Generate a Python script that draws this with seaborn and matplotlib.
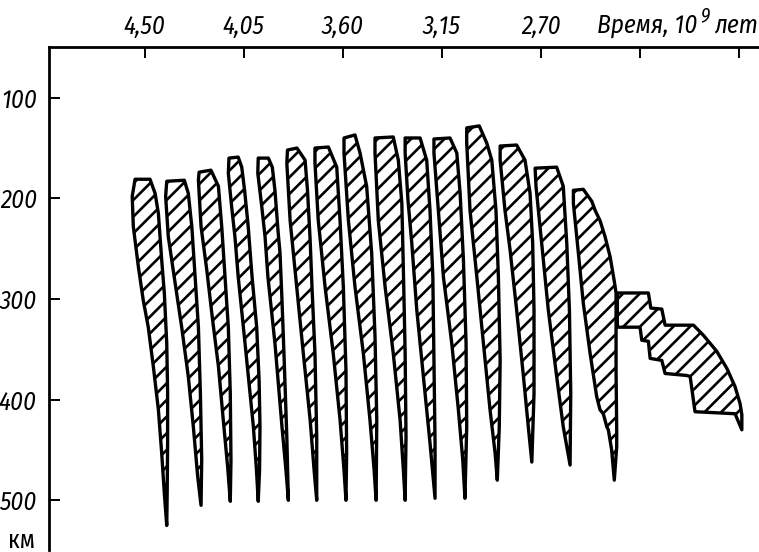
import matplotlib
matplotlib.use("Agg")
import matplotlib.pyplot as plt
from matplotlib import font_manager
import seaborn as sns

# ---------------- data (time in 10^9 years, depth in km) ----------------
x_ticks = [4.50, 4.05, 3.60, 3.15, 2.70, 2.25, 1.80]
x_tick_labels = ["4,50", "4,05", "3,60", "3,15", "2,70", "", ""]
y_ticks = [100, 200, 300, 400, 500]
y_tick_labels = ["100", "200", "300", "400", "500"]

# outlines of the hatched lenses: (time, depth) going top-left -> right edge -> tip -> left edge
lens_01 = [(4.544,181),(4.476,181),(4.453,195),(4.438,215),(4.423,261),(4.411,294),(4.400,344),(4.396,393),
           (4.396,443),(4.398,493),(4.400,525),(4.411,493),(4.423,453),(4.438,410),(4.461,367),(4.484,328),
           (4.507,301),(4.529,268),(4.552,228),(4.557,198)]
lens_02 = [(4.400,183),(4.320,182),(4.302,195),(4.286,228),(4.271,278),(4.256,328),(4.247,394),(4.241,460),
           (4.244,505),(4.259,477),(4.279,427),(4.302,377),(4.332,328),(4.362,284),(4.393,238),(4.405,198)]
lens_03 = [(4.253,174),(4.199,172),(4.165,188),(4.150,228),(4.135,278),(4.120,328),(4.111,394),(4.108,460),
           (4.111,501),(4.123,467),(4.143,420),(4.165,367),(4.193,318),(4.218,271),(4.244,228),(4.256,182)]
lens_04 = [(4.117,160),(4.075,159),(4.059,169),(4.046,192),(4.030,227),(4.012,278),(3.991,328),(3.980,381),
           (3.976,427),(3.978,470),(3.984,501),(3.992,470),(4.006,427),(4.044,344),(4.075,278),(4.090,238),
           (4.105,208),(4.120,175)]
lens_05 = [(3.984,160),(3.938,160),(3.920,169),(3.908,192),(3.893,235),(3.885,254),(3.876,301),(3.867,354),
           (3.854,437),(3.847,500),(3.858,470),(3.876,427),(3.908,344),(3.940,278),(3.953,238),(3.968,208),
           (3.986,175)]
lens_06 = [(3.851,152),(3.808,150),(3.771,162),(3.760,192),(3.748,241),(3.739,291),(3.726,354),(3.718,437),
           (3.718,500),(3.730,470),(3.748,420),(3.779,354),(3.809,288),(3.839,222),(3.854,165)]
lens_07 = [(3.726,150),(3.665,149),(3.627,169),(3.612,222),(3.597,288),(3.585,371),(3.582,453),(3.585,500),
           (3.594,470),(3.612,420),(3.643,354),(3.680,288),(3.711,222),(3.726,165)]
lens_08 = [(3.594,140),(3.544,137),(3.521,155),(3.491,188),(3.468,255),(3.453,337),(3.445,420),(3.448,500),
           (3.457,470),(3.476,420),(3.506,354),(3.544,288),(3.574,222),(3.594,155)]
lens_09 = [(3.453,140),(3.370,139),(3.347,162),(3.331,205),(3.324,271),(3.316,354),(3.312,437),(3.316,500),
           (3.324,470),(3.339,420),(3.370,354),(3.407,288),(3.438,222),(3.453,155)]
lens_10 = [(3.316,140),(3.248,140),(3.218,162),(3.203,212),(3.190,278),(3.185,361),(3.180,443),(3.180,498),
           (3.203,443),(3.233,377),(3.263,311),(3.286,244),(3.303,202),(3.316,155)]
lens_11 = [(3.185,141),(3.112,140),(3.081,155),(3.066,195),(3.051,261),(3.039,344),(3.036,427),(3.044,498),
           (3.054,460),(3.074,410),(3.104,344),(3.142,278),(3.165,212),(3.185,155)]
lens_12 = [(3.036,130),(2.979,128),(2.945,145),(2.922,162),(2.903,212),(2.892,278),(2.884,361),(2.888,427),
           (2.897,480),(2.907,453),(2.930,410),(2.960,344),(2.990,278),(3.021,212),(3.036,145)]
lens_13 = [(2.884,148),(2.809,147),(2.771,162),(2.748,195),(2.736,245),(2.730,311),(2.730,394),(2.740,462),
           (2.756,427),(2.778,377),(2.809,311),(2.839,251),(2.862,212),(2.884,162)]
lens_14 = [(2.725,170),(2.627,169),(2.597,188),(2.581,245),(2.569,311),(2.563,394),(2.566,465),(2.597,427),
           (2.627,377),(2.665,311),(2.695,245),(2.721,188)]
lens_15 = [(2.551,192),(2.506,191),(2.467,203),(2.452,212),(2.430,222),(2.407,238),(2.384,258),(2.366,281),
           (2.357,294),(2.357,328),(2.357,371),(2.354,430),(2.354,447),(2.365,480),(2.377,450),(2.392,430),
           (2.399,427),(2.415,414),(2.430,410),(2.445,397),(2.475,354),(2.506,304),(2.528,255),(2.551,205)]
staircase = [(2.351,294),(2.210,294),(2.199,309),(2.149,310),(2.134,326),(2.005,326),(1.960,336),(1.899,352),
             (1.853,369),(1.816,387),(1.793,404),(1.785,415),(1.785,430),(1.816,414),(1.998,412),(2.020,377),
             (2.035,376),(2.134,374),(2.149,361),(2.202,359),(2.210,342),(2.240,341),(2.248,328),(2.351,328)]

lenses = [lens_01, lens_02, lens_03, lens_04, lens_05, lens_06, lens_07, lens_08,
          lens_09, lens_10, lens_11, lens_12, lens_13, lens_14, lens_15, staircase]

# ---------------- style ----------------
sns.set_theme(style="white")
names = {f.name for f in font_manager.fontManager.ttflist}
cyr_pref = ["Fira Sans Condensed", "Roboto Condensed", "PT Sans Narrow", "Archivo Narrow"]
num_pref = ["Fira Sans Condensed", "Barlow Condensed", "Roboto Condensed", "Archivo Narrow"]
cyr_fonts = [n for n in cyr_pref if n in names] + ["DejaVu Sans"]
num_fonts = [n for n in num_pref if n in names] + ["DejaVu Sans"]
plt.rcParams["font.family"] = cyr_fonts
plt.rcParams["hatch.linewidth"] = 1.9
plt.rcParams["hatch.color"] = "black"

W, H = 759, 552
fig = plt.figure(figsize=(W / 100, H / 100), dpi=100, facecolor="white")
ax = fig.add_axes([49.3 / W, 2 / H, 1 - 49.3 / W, (550 - 46.7) / H])
ax.set_facecolor("white")

for shape in lenses:
    ts = [p[0] for p in shape]
    ds = [p[1] for p in shape]
    ax.fill(ts, ds, facecolor="white", edgecolor="black", hatch="//",
            linewidth=2.4, joinstyle="round", zorder=3)

ax.set_xlim(4.934, 1.707)
ax.set_ylim(549.4, 49.3)

for s in ["right", "bottom"]:
    ax.spines[s].set_visible(False)
for s in ["left", "top"]:
    ax.spines[s].set_visible(True)
    ax.spines[s].set_linewidth(2.0)
    ax.spines[s].set_color("black")

ax.xaxis.tick_top()
ax.set_xticks(x_ticks, x_tick_labels, fontstyle="italic", fontsize=18, family=num_fonts)
ax.set_yticks(y_ticks, y_tick_labels, fontstyle="italic", fontsize=18, family=num_fonts)
ax.tick_params(axis="x", top=True, bottom=False, labeltop=True, labelbottom=False,
               direction="in", length=8, width=1.4, pad=5, colors="black")
ax.tick_params(axis="y", left=True, right=False, direction="in", length=8, width=1.4,
               pad=9, colors="black")
ax.grid(False)

# axis titles
renderer = fig.canvas.get_renderer()
t1 = fig.text(597 / W, 1 - 33 / H, "Время, 10", fontsize=18, fontstyle="italic",
              ha="left", va="baseline", color="black")
x1 = t1.get_window_extent(renderer).x1
t2 = fig.text((x1 + 3) / W, 1 - 21 / H, "9", fontsize=14, fontstyle="italic",
              ha="left", va="baseline", color="black", family=num_fonts)
x2 = t2.get_window_extent(renderer).x1
fig.text((x2 + 5) / W, 1 - 33 / H, "лет", fontsize=18, fontstyle="italic",
         ha="left", va="baseline", color="black")
fig.text(22 / W, 1 - 541 / H, "км", fontsize=18, ha="center", va="center", color="black")

fig.savefig("out.png", dpi=100, facecolor="white")
